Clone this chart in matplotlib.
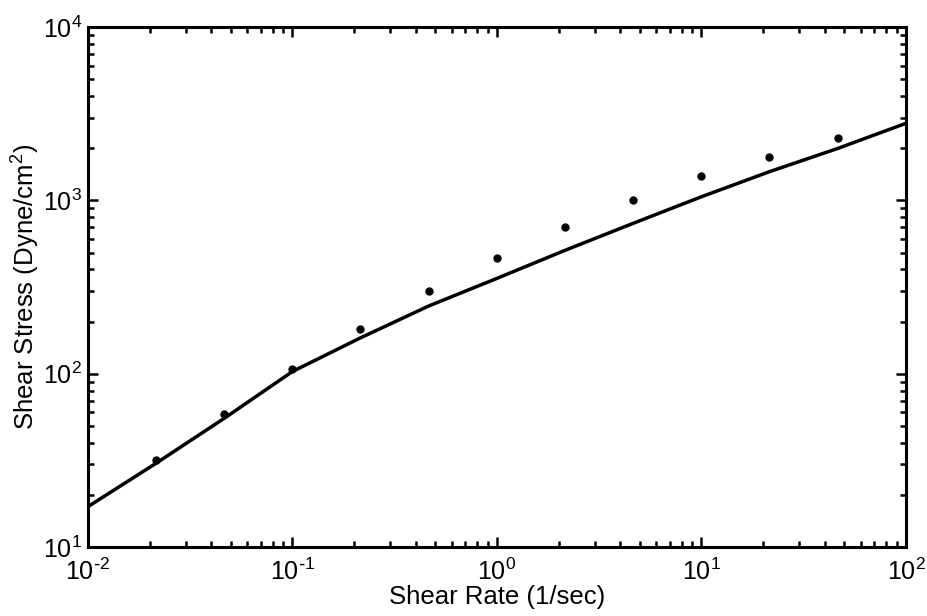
import matplotlib.pyplot as plt
import matplotlib.ticker as mticker
import numpy as np

plt.rcParams['font.family'] = ['Liberation Sans', 'DejaVu Sans']
plt.rcParams['mathtext.default'] = 'regular'
plt.rcParams['axes.unicode_minus'] = False

# measured shear rate / shear stress
rate_data = [0.0215, 0.0464, 0.1, 0.215, 0.464, 1.0, 2.15, 4.64, 10.0, 21.5, 46.4]
stress_data = [31.8, 58.5, 106, 181, 300, 463, 702, 1005, 1383, 1787, 2282]

# model fit curve
rate_fit = [0.01, 0.0215, 0.0464, 0.1, 0.215, 0.464, 1.0, 2.15, 4.64, 10.0, 21.5, 46.4, 100.0]
stress_fit = [17.1, 30.4, 55.3, 103, 161, 246, 355, 515, 738, 1050, 1465, 1995, 2786]

fig = plt.figure(figsize=(9.28, 6.16), dpi=100)
ax = fig.add_axes([0.0948, 0.112, 0.8815, 0.844])

ax.plot(rate_fit, stress_fit, color='black', linewidth=2.5, solid_capstyle='round')
ax.plot(rate_data, stress_data, linestyle='none', marker='o', markersize=5, color='black')

ax.set_xscale('log')
ax.set_yscale('log')
ax.set_xlim(1e-2, 1e2)
ax.set_ylim(1e1, 1e4)


def pow_label(v, pos):
    e = int(round(np.log10(v)))
    if e < 0:
        return r'$10^{\text{-}%d}$' % (-e)
    return r'$10^{%d}$' % e


fmt = mticker.FuncFormatter(pow_label)
ax.xaxis.set_major_formatter(fmt)
ax.yaxis.set_major_formatter(fmt)
ax.xaxis.set_minor_formatter(mticker.NullFormatter())
ax.yaxis.set_minor_formatter(mticker.NullFormatter())

ax.tick_params(which='both', direction='in', top=True, right=True, width=1.8)
ax.tick_params(which='major', length=7, labelsize=18)
ax.tick_params(axis='x', which='major', pad=8)
ax.tick_params(axis='y', which='major', pad=4)
ax.tick_params(which='minor', length=4)
for s in ax.spines.values():
    s.set_linewidth(2.2)

ax.set_xlabel('Shear Rate (1/sec)', fontsize=18.5, labelpad=0)
ax.set_ylabel('Shear Stress (Dyne/cm$^2$)', fontsize=18.5, labelpad=1)

fig.savefig('out.png', dpi=100)
